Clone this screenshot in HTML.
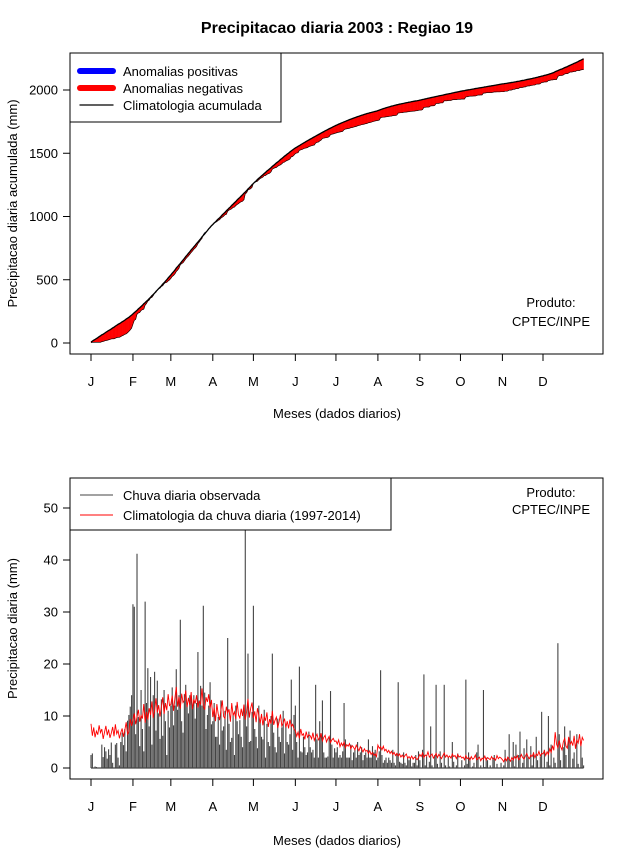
<!DOCTYPE html>
<html><head><meta charset="utf-8"><style>
body{margin:0;background:#fff}
svg text{font-family:"Liberation Sans",sans-serif;}
</style></head><body>
<svg id="c" width="640" height="850" xmlns="http://www.w3.org/2000/svg">
<rect width="640" height="850" fill="#fff"/>
<text x="337" y="33" font-size="16" font-weight="bold" text-anchor="middle">Precipitacao diaria 2003 : Regiao 19</text>
<g id="topPanel"></g>
<g id="botPanel"></g>
</svg>
<script>
const monthLabels=["J","F","M","A","M","J","J","A","S","O","N","D"];
const monthStartDays=[1,32,60,91,121,152,182,213,244,274,305,335];
const topTicks=[0,500,1000,1500,2000];
const botTicks=[0,10,20,30,40,50];
const climDaily=[
8.5,6.2,7.8,5.9,7.1,6.4,8.2,6.8,7.5,5.6,6.9,8.1,6.3,7.4,5.8,6.7,7.9,6.1,8.4,6.6,7.2,5.7,6.8,7.6,6.0,7.3,8.8,6.5,7.0,9.4,8.1,
9.2,10.5,8.4,9.8,11.2,8.9,10.1,9.5,12.3,8.7,10.8,9.3,11.5,10.2,12.8,9.6,11.0,13.4,10.7,12.1,9.9,11.8,13.6,10.4,12.5,11.1,14.2,12.0,
12.2,13.9,11.0,13.4,15.6,11.8,13.7,11.4,14.3,12.6,13.0,14.9,11.7,13.5,12.1,14.6,11.3,13.2,12.4,14.0,11.6,12.8,12.3,15.3,12.0,11.2,13.6,12.7,14.2,11.5,13.1,
9.8,11.6,9.0,12.3,10.4,9.2,11.1,13.0,9.9,9.5,11.8,10.6,11.3,8.9,12.5,10.1,10.8,9.4,12.7,10.2,9.6,11.4,10.0,12.2,9.3,10.9,13.3,9.7,11.5,12.6,
9.6,10.9,8.8,11.5,10.2,8.6,10.4,8.2,9.9,9.1,10.7,7.9,9.4,8.5,11.0,8.3,9.2,9.8,7.7,8.9,10.3,8.1,8.7,9.5,7.8,9.0,7.6,9.3,8.0,8.4,7.5,
7.2,6.1,6.9,5.7,7.5,6.3,6.6,5.5,7.0,5.9,6.4,6.2,5.6,6.8,5.3,6.0,6.5,5.4,5.8,6.7,5.2,5.9,6.3,5.0,5.6,6.1,4.9,5.4,5.7,5.1,
5.2,4.6,5.4,4.1,4.8,4.3,5.0,3.9,4.5,4.2,4.7,3.7,4.3,4.0,3.5,4.4,3.8,3.3,4.1,3.6,3.1,3.7,3.2,3.4,2.8,3.3,2.6,3.0,2.4,2.7,2.2,
4.4,3.8,4.1,3.5,4.2,3.3,3.6,3.0,3.4,2.8,3.2,2.6,3.0,2.4,2.8,2.3,2.7,2.1,2.5,2.0,2.4,2.7,1.9,2.2,1.8,2.3,1.7,2.1,1.9,1.6,2.0,
2.6,2.2,2.9,2.0,2.5,2.3,3.1,2.1,2.4,2.7,1.9,2.3,2.8,2.0,2.6,2.2,1.8,2.4,2.9,2.1,2.5,2.0,2.3,1.9,2.7,2.2,2.4,1.8,2.6,2.1,
2.3,1.9,2.1,1.6,2.4,1.8,2.0,1.5,2.2,1.7,1.9,2.5,1.6,1.8,2.1,1.4,1.9,1.7,2.3,1.5,2.0,1.8,1.6,2.2,1.7,1.9,1.5,2.4,1.8,2.1,1.9,
1.6,1.2,1.9,1.4,2.1,1.7,1.3,2.0,1.5,2.2,1.8,2.4,1.6,1.9,2.6,2.0,1.7,2.3,2.8,2.1,1.8,2.5,2.2,2.9,2.0,2.7,2.4,3.2,2.3,2.8,
2.7,3.3,2.4,3.1,2.6,3.7,3.0,4.3,3.4,6.9,4.6,3.9,5.3,4.1,3.5,5.0,5.7,4.2,3.8,6.0,4.5,5.1,4.3,6.2,3.7,5.4,4.8,6.5,4.2,5.9,5.3];
const obsDaily=[
2.5,2.8,0,0.3,0.2,0,0,0,4.5,2.1,4.0,3.2,1.8,3.6,2.5,4.9,1.0,0,4.5,4.8,2.0,0.5,5.0,6.8,4.4,7.5,3.2,9.1,10.2,11.8,14.0,
31.5,31.0,6.5,41.2,9.8,4.2,15.0,7.5,3.2,32.0,12.5,19.2,8.0,17.5,4.5,14.0,18.5,7.2,16.8,10.5,5.6,13.2,6.2,15.0,9.0,2.5,11.0,7.8,
12.0,15.5,8.2,12.0,19.0,11.2,14.0,28.5,9.0,6.8,14.2,16.0,12.0,10.5,14.0,13.8,12.0,14.0,9.5,12.5,22.3,13.0,15.8,12.0,31.2,14.5,7.5,10.2,12.0,16.5,8.4,
9.0,12.5,6.0,6.0,9.8,4.5,13.0,7.2,8.0,11.0,3.5,25.0,8.5,5.0,5.8,10.5,2.5,12.0,9.0,6.5,9.2,6.0,4.0,11.5,47.0,8.0,22.0,5.0,5.2,10.8,
31.2,7.5,6.0,3.8,12.0,9.0,6.0,5.5,11.2,2.0,8.5,5.0,4.2,10.0,22.0,6.8,4.0,3.0,9.5,6.0,5.0,7.8,11.0,2.8,8.2,5.0,4.5,6.5,17.0,3.5,10.2,
12.0,5.0,2.0,19.5,3.2,3.0,6.0,4.0,2.5,3.0,7.0,4.0,3.0,3.5,2.0,16.0,5.5,2.0,9.0,6.5,13.0,3.0,2.0,2.0,2.2,5.8,14.8,4.5,2.0,3.8,
3.0,4.0,2.0,2.5,2.0,3.2,12.5,5.5,2.0,2.0,2.0,4.5,1.5,3.0,3.5,2.0,5.0,2.5,3.0,4.0,1.5,2.5,3.0,2.0,5.5,2.0,2.0,4.2,3.0,3.5,1.5,
2.0,3.2,18.8,2.5,1.0,1.5,2.0,1.0,2.0,1.5,1.0,3.5,1.0,0.5,2.8,16.5,1.2,1.0,0.8,3.0,1.0,0.5,2.0,1.5,2.0,0.3,1.0,1.0,2.5,0.5,3.2,
1.5,0,3.5,18.0,0.5,2.2,0,1.2,8.0,0.5,0,2.5,16.0,0.8,0,3.2,1.0,0,16.0,0.5,0,2.0,0.3,0,5.0,1.2,0,0.5,2.8,0,
0,1.5,0,0.5,17.0,0.8,3.0,2.0,0,0.3,1.0,0,3.0,4.5,0,0.5,0,15.0,0.2,2.0,1.5,0,0.5,0,2.0,2.5,0,0.8,0,0,1.0,
0,0.5,3.5,0,2.0,6.5,0,1.5,5.0,0.3,4.5,0,2.5,7.0,0,1.0,3.8,0,5.5,2.0,0,4.2,0.5,3.0,0,6.0,1.5,0,2.2,10.8,
0,3.5,0,1.2,10.0,0.5,4.5,0,2.0,1.0,0,24.0,6.5,1.5,0,4.0,8.0,2.5,0,5.5,7.2,0,1.8,3.0,0,6.5,0.8,0,4.8,2.0,0.5];

const NS='http://www.w3.org/2000/svg';
function mk(parent,tag,attrs,text){const e=document.createElementNS(NS,tag);for(const k in attrs)e.setAttribute(k,attrs[k]);if(text!==undefined)e.textContent=text;parent.appendChild(e);return e;}
const xDay=d=>91+(d-1)*(543-91)/334;
const yTop=v=>343-v*(253/2000);
const yBot=v=>768-v*5.2;

function cum(a){let s=0;return a.map(v=>s+=v);}
const climCum=cum(climDaily), obsCum=cum(obsDaily);

function panel(g,x0,y0,x1,y1,yScale,ticks,ytitle,xlabY,xtitleY){
  const box=mk(g,'rect',{x:x0,y:y0,width:x1-x0,height:y1-y0,fill:'none',stroke:'#000','stroke-width':1});
  
  
  monthStartDays.forEach((d,i)=>{
    const x=xDay(d);
    const t=mk(g,'line',{x1:x,x2:x,y1:y1,y2:y1+7,stroke:'#000'});
    
    
    const l=mk(g,'text',{x:x,y:xlabY,'font-size':13,'text-anchor':'middle'},monthLabels[i]);
    
    
  });
  const ax=mk(g,'line',{x1:xDay(1),x2:xDay(335),y1:y1,y2:y1,stroke:'#000'});
  
  
  ticks.forEach(v=>{
    const y=yScale(v);
    const t=mk(g,'line',{x1:x0-7,x2:x0,y1:y,y2:y,stroke:'#000'});
    
    
    const l=mk(g,'text',{x:x0-12,y:y+4.5,'font-size':13,'text-anchor':'end'},String(v));
    
    
  });
  const ay=mk(g,'line',{x1:x0,x2:x0,y1:yScale(ticks[0]),y2:yScale(ticks[ticks.length-1]),stroke:'#000'});
  
  
  const cy=(y0+y1)/2;
  const yt=mk(g,'text',{x:17,y:cy,'font-size':13,'text-anchor':'middle',transform:`rotate(-90 17 ${cy})`},ytitle);
  
  
  const xt=mk(g,'text',{x:337,y:xtitleY,'font-size':13,'text-anchor':'middle'},'Meses (dados diarios)');
  
  
}

// TOP
const topG=document.getElementById('topPanel');
panel(topG,70,53,603,354,yTop,topTicks,'Precipitacao diaria acumulada (mm)',386,418);
const area=mk(topG,'g',{});


for(let i=0;i<climCum.length-1;i++){
  const xa=xDay(i+1),xb=xDay(i+2);
  const pos=(obsCum[i]+obsCum[i+1])>(climCum[i]+climCum[i+1]);
  const q=mk(area,'polygon',{points:`${xa},${yTop(climCum[i])} ${xb},${yTop(climCum[i+1])} ${xb},${yTop(obsCum[i+1])} ${xa},${yTop(obsCum[i])}`,fill:pos?'#0000ff':'#ff0000',stroke:pos?'#0000ff':'#ff0000','stroke-width':0.4});
  
  
}
const obsLine=mk(topG,'polyline',{points:obsCum.map((v,i)=>`${xDay(i+1)},${yTop(v)}`).join(' '),fill:'none',stroke:'#000','stroke-width':0.6});


const climLine=mk(topG,'polyline',{points:climCum.map((v,i)=>`${xDay(i+1)},${yTop(v)}`).join(' '),fill:'none',stroke:'#000','stroke-width':1.3});


const lg=mk(topG,'g',{});


mk(lg,'rect',{x:70,y:53,width:211,height:69,fill:'#fff',stroke:'#000'});
[['#0000ff',6,'Anomalias positivas',71],['#ff0000',6,'Anomalias negativas',88],['#000',1.3,'Climatologia acumulada',105]].forEach(e=>{
  const ln=mk(lg,'line',{x1:80,x2:113,y1:e[3],y2:e[3],stroke:e[0],'stroke-width':e[1],'stroke-linecap':'round'});
  
  
  const t=mk(lg,'text',{x:123,y:e[3]+5,'font-size':13},e[2]);
  
  
});
const p1=mk(topG,'text',{x:551,y:307,'font-size':13,'text-anchor':'middle'},'Produto:');


const p2=mk(topG,'text',{x:551,y:326,'font-size':13,'text-anchor':'middle'},'CPTEC/INPE');



// BOTTOM
const botG=document.getElementById('botPanel');
panel(botG,70,478,603,779,yBot,botTicks,'Precipitacao diaria (mm)',811,845);
const bars=mk(botG,'g',{});


const base=mk(bars,'line',{x1:xDay(1),x2:xDay(365),y1:yBot(0),y2:yBot(0),stroke:'#444','stroke-width':1.2});


obsDaily.forEach((v,i)=>{
  const x=xDay(i+1);
  const b=mk(bars,'line',{x1:x,x2:x,y1:yBot(0),y2:Math.max(yBot(v),478),stroke:'#444','stroke-width':1.1});
  
  
});
const red=mk(botG,'polyline',{points:climDaily.map((v,i)=>`${xDay(i+1)},${yBot(v)}`).join(' '),fill:'none',stroke:'#ff0000','stroke-width':0.9});


const lg2=mk(botG,'g',{});


mk(lg2,'rect',{x:70,y:478,width:321,height:52,fill:'#fff',stroke:'#000'});
[['#444','Chuva diaria observada',495],['#ff0000','Climatologia da chuva diaria (1997-2014)',515]].forEach(e=>{
  const ln=mk(lg2,'line',{x1:80,x2:113,y1:e[2],y2:e[2],stroke:e[0],'stroke-width':1});
  
  
  const t=mk(lg2,'text',{x:123,y:e[2]+5,'font-size':13},e[1]);
  
  
});
const q1=mk(botG,'text',{x:551,y:497,'font-size':13,'text-anchor':'middle'},'Produto:');


const q2=mk(botG,'text',{x:551,y:514,'font-size':13,'text-anchor':'middle'},'CPTEC/INPE');


</script>
</body></html>
